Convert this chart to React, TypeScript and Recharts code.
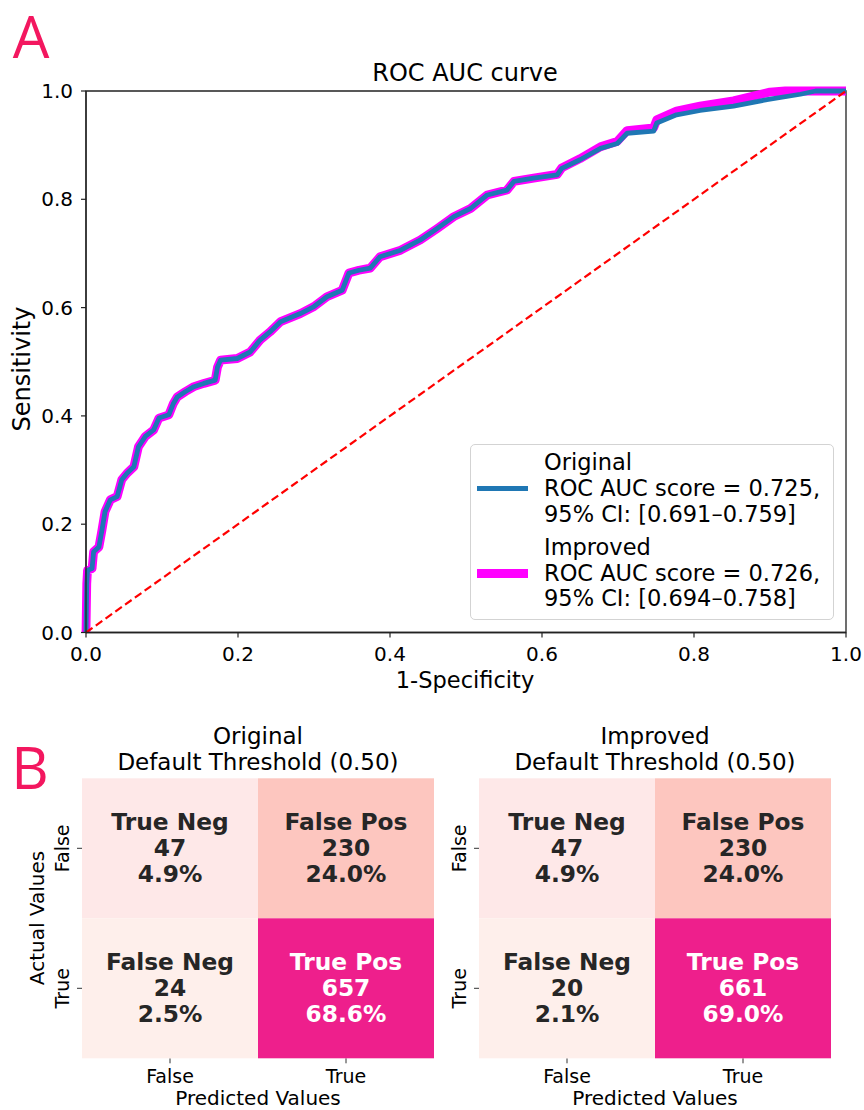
import React from 'react'
import {
  LineChart,
  Line,
  XAxis,
  YAxis,
  ReferenceArea,
  Legend,
  ScatterChart,
  Scatter,
} from 'recharts'

// ROC curve points
const fprOriginal = [
  0, 0.001, 0.002, 0.008, 0.01, 0.017, 0.021, 0.025, 0.032, 0.041, 0.047, 0.054, 0.063, 0.069,
  0.078, 0.089, 0.096, 0.109, 0.115, 0.12, 0.131, 0.142, 0.155, 0.17, 0.173, 0.177, 0.199, 0.216,
  0.229, 0.242, 0.256, 0.282, 0.3, 0.317, 0.337, 0.346, 0.359, 0.374, 0.387, 0.414, 0.44, 0.462,
  0.484, 0.506, 0.528, 0.554, 0.563, 0.589, 0.62, 0.626, 0.65, 0.677, 0.699, 0.712, 0.747, 0.751,
  0.777, 0.808, 0.852, 0.896, 0.94, 0.96, 1,
]
const tprOriginal = [
  0, 0.09, 0.115, 0.118, 0.149, 0.158, 0.189, 0.223, 0.245, 0.251, 0.282, 0.294, 0.306, 0.343,
  0.362, 0.374, 0.396, 0.402, 0.423, 0.435, 0.445, 0.454, 0.46, 0.466, 0.49, 0.503, 0.506, 0.518,
  0.54, 0.555, 0.574, 0.589, 0.602, 0.62, 0.632, 0.664, 0.669, 0.673, 0.694, 0.706, 0.725, 0.746,
  0.768, 0.783, 0.808, 0.817, 0.833, 0.839, 0.845, 0.857, 0.873, 0.894, 0.903, 0.922, 0.926, 0.941,
  0.956, 0.964, 0.972, 0.984, 0.994, 1, 1,
]
const fprImproved = [
  0, 0.001, 0.002, 0.008, 0.01, 0.017, 0.021, 0.025, 0.032, 0.041, 0.047, 0.054, 0.063, 0.069,
  0.078, 0.089, 0.096, 0.109, 0.115, 0.12, 0.131, 0.142, 0.155, 0.17, 0.173, 0.177, 0.199, 0.216,
  0.229, 0.242, 0.256, 0.282, 0.3, 0.317, 0.337, 0.346, 0.359, 0.374, 0.387, 0.414, 0.44, 0.462,
  0.484, 0.506, 0.528, 0.554, 0.563, 0.589, 0.62, 0.626, 0.65, 0.677, 0.699, 0.712, 0.747, 0.751,
  0.777, 0.808, 0.852, 0.9, 0.92, 1,
]
const tprImproved = [
  0, 0.09, 0.115, 0.118, 0.149, 0.158, 0.189, 0.223, 0.245, 0.251, 0.282, 0.294, 0.306, 0.343,
  0.362, 0.374, 0.396, 0.402, 0.423, 0.435, 0.445, 0.454, 0.46, 0.466, 0.49, 0.503, 0.506, 0.518,
  0.54, 0.555, 0.574, 0.589, 0.602, 0.62, 0.632, 0.664, 0.669, 0.673, 0.694, 0.706, 0.725, 0.746,
  0.768, 0.783, 0.808, 0.817, 0.833, 0.839, 0.846, 0.858, 0.875, 0.897, 0.907, 0.927, 0.932, 0.947,
  0.963, 0.972, 0.982, 0.998, 1, 1,
]
const chanceFpr = [0, 1]
const chanceTpr = [0, 1]
const rocTicks = [0, 0.2, 0.4, 0.6, 0.8, 1]

const seriesNames = ['Original', 'Improved']
const aucScores = [0.725, 0.726]
const ciLow = [0.691, 0.694]
const ciHigh = [0.759, 0.758]

// confusion matrices
const predictedLabels = ['False', 'True']
const actualLabels = ['False', 'True']
const cellNames = [
  ['True Neg', 'False Pos'],
  ['False Neg', 'True Pos'],
]
const originalCounts = [
  [47, 230],
  [24, 657],
]
const improvedCounts = [
  [47, 230],
  [20, 661],
]

const FONT = 'DejaVu Sans'
const AXIS = '#222'
const BLUE = '#1f77b4'
const MAGENTA = '#ff00ff'
const cellColors = [
  ['#fee8e8', '#fdc6bf'],
  ['#feefeb', '#ee1f8c'],
]
const cellText = [
  ['#262626', '#262626'],
  ['#262626', '#ffffff'],
]

const toPoints = (xs: number[], ys: number[]) => xs.map((x, i) => ({ x, y: ys[i] }))
const originalCurve = toPoints(fprOriginal, tprOriginal)
const improvedCurve = toPoints(fprImproved, tprImproved)
const chanceCurve = toPoints(chanceFpr, chanceTpr)

function Txt({ x, y, size, children, rotate, weight, color, family }: any) {
  return (
    <div
      style={{
        position: 'absolute',
        left: x,
        top: y,
        transform: `translate(-50%, -50%)${rotate ? ' rotate(-90deg)' : ''}`,
        fontSize: size,
        lineHeight: `${Math.round(size * 0.8)}px`,
        whiteSpace: 'nowrap',
        fontFamily: family || FONT,
        fontWeight: weight || 400,
        color: color || '#000',
      }}
    >
      {children}
    </div>
  )
}

function RocLegend() {
  const colors = [BLUE, MAGENTA]
  const widths = [4.5, 8.5]
  return (
    <div
      style={{
        width: 364,
        height: 176,
        border: '1px solid #d3d3d3',
        borderRadius: 5,
        background: 'rgba(255,255,255,0.85)',
        boxSizing: 'border-box',
        paddingTop: 5,
        fontFamily: FONT,
        fontSize: 22.5,
        lineHeight: '25.8px',
        color: '#000',
      }}
    >
      {seriesNames.map((name, i) => (
        <div key={name} style={{ display: 'flex', alignItems: 'center', marginBottom: i === 0 ? 7.5 : 0 }}>
          <div style={{ width: 51, height: widths[i], background: colors[i], marginLeft: 6, marginRight: 16 }} />
          <div>
            <div>{name}</div>
            <div>{`ROC AUC score = ${aucScores[i].toFixed(3)},`}</div>
            <div>{`95% CI: [${ciLow[i].toFixed(3)}\u2013${ciHigh[i].toFixed(3)}]`}</div>
          </div>
        </div>
      ))}
    </div>
  )
}

function RocPanel() {
  return (
    <LineChart width={864} height={700} margin={{ top: 91, right: 18, bottom: 37.5, left: 0 }}>
      <XAxis
        type="number"
        dataKey="x"
        domain={[0, 1]}
        ticks={rocTicks}
        tickFormatter={(v: number) => v.toFixed(1)}
        height={30}
        tickSize={5}
        tickMargin={9}
        tick={{ fontSize: 20, fill: '#000' }}
        axisLine={{ stroke: AXIS, strokeWidth: 1.3 }}
        tickLine={{ stroke: AXIS, strokeWidth: 1.2 }}
      />
      <YAxis
        type="number"
        dataKey="y"
        domain={[0, 1]}
        ticks={rocTicks}
        tickFormatter={(v: number) => v.toFixed(1)}
        width={86}
        tickSize={5}
        tickMargin={8}
        tick={{ fontSize: 20, fill: '#000' }}
        axisLine={{ stroke: AXIS, strokeWidth: 1.3 }}
        tickLine={{ stroke: AXIS, strokeWidth: 1.2 }}
      />
      <ReferenceArea x1={0} x2={1} y1={0} y2={1} fill="none" fillOpacity={0} stroke={AXIS} strokeWidth={1.3} />
      <Line
        data={improvedCurve}
        dataKey="y"
        name="Improved"
        type="linear"
        stroke={MAGENTA}
        strokeWidth={8.8}
        strokeLinejoin="round"
        dot={false}
        activeDot={false}
        isAnimationActive={false}
      />
      <Line
        data={originalCurve}
        dataKey="y"
        name="Original"
        type="linear"
        stroke={BLUE}
        strokeWidth={4.8}
        strokeLinejoin="round"
        dot={false}
        activeDot={false}
        isAnimationActive={false}
      />
      <Line
        data={chanceCurve}
        dataKey="y"
        name="Chance"
        type="linear"
        stroke="#ff0000"
        strokeWidth={2.2}
        strokeDasharray="8 4"
        dot={false}
        activeDot={false}
        isAnimationActive={false}
        legendType="none"
      />
      <Legend
        content={() => <RocLegend />}
        layout="vertical"
        align="center"
        verticalAlign="middle"
        wrapperStyle={{ left: 470, top: 444, width: 364, height: 176 }}
      />
    </LineChart>
  )
}

// matrix geometry
const M_W = 440
const M_H = 410
const M_TOP = 78.3
const M_RIGHT = 6
const M_YAXIS = 82
const M_XAXIS = 51.7
const CELL_W = (M_W - M_YAXIS - M_RIGHT) / predictedLabels.length
const CELL_H = (M_H - M_TOP - M_XAXIS) / actualLabels.length

function RotatedTick({ x, y, payload }: any) {
  return (
    <g transform={`translate(${x},${y}) rotate(-90)`}>
      <text textAnchor="middle" dy="0.36em" fontSize={19} fill="#000">
        {actualLabels[payload.value]}
      </text>
    </g>
  )
}

function MatrixCell(props: any) {
  const { cx, cy, payload } = props
  const { row, col } = payload
  const fg = cellText[row][col]
  const lines = [payload.name, String(payload.count), payload.pct]
  return (
    <g>
      <rect x={cx - CELL_W / 2} y={cy - CELL_H / 2} width={CELL_W} height={CELL_H} fill={cellColors[row][col]} />
      {lines.map((t, i) => (
        <text
          key={i}
          x={cx}
          y={cy + (i - 1) * 26.3 - 0.5}
          dy="0.36em"
          textAnchor="middle"
          fontSize={23.3}
          fontWeight="bold"
          fill={fg}
        >
          {t}
        </text>
      ))}
    </g>
  )
}

function MatrixPanel({ counts, left }: { counts: number[][]; left: number }) {
  const total = counts.flat().reduce((a, b) => a + b, 0)
  const cells = counts.flatMap((r, ri) =>
    r.map((count, ci) => ({
      row: ri,
      col: ci,
      count,
      name: cellNames[ri][ci],
      pct: `${((100 * count) / total).toFixed(1)}%`,
    }))
  )
  return (
    <div style={{ position: 'absolute', left, top: 700 }}>
      <ScatterChart width={M_W} height={M_H} margin={{ top: M_TOP, right: M_RIGHT, bottom: 0, left: 0 }}>
        <XAxis
          type="number"
          dataKey="col"
          domain={[-0.5, 1.5]}
          ticks={[0, 1]}
          tickFormatter={(v: number) => predictedLabels[v]}
          height={M_XAXIS}
          tickSize={5}
          tickMargin={6}
          tick={{ fontSize: 19, fill: '#000' }}
          axisLine={false}
          tickLine={{ stroke: '#333' }}
        />
        <YAxis
          type="number"
          dataKey="row"
          domain={[-0.5, 1.5]}
          ticks={[0, 1]}
          reversed
          width={M_YAXIS}
          tickSize={5}
          tickMargin={15}
          tick={<RotatedTick />}
          axisLine={false}
          tickLine={{ stroke: '#333' }}
        />
        <Scatter data={cells} shape={(p: any) => <MatrixCell {...p} />} isAnimationActive={false} />
      </ScatterChart>
    </div>
  )
}

export default function App() {
  const pink = '#f3175f'
  return (
    <div
      style={{
        position: 'absolute',
        left: 0,
        top: 0,
        width: 864,
        height: 1110,
        background: '#fff',
        fontFamily: FONT,
        overflow: 'hidden',
      }}
    >
      <div style={{ position: 'absolute', left: 0, top: 0 }}>
        <RocPanel />
      </div>
      <Txt x={31} y={36} size={58} family="Open Sans" color={pink}>A</Txt>
      <Txt x={465} y={73.3} size={24}>ROC AUC curve</Txt>
      <Txt x={465} y={680.3} size={22.5}>1-Specificity</Txt>
      <Txt x={22} y={369} size={24}>
        <span style={{ display: 'inline-block', transform: 'rotate(-90deg)' }}>Sensitivity</span>
      </Txt>

      <MatrixPanel counts={originalCounts} left={0} />
      <MatrixPanel counts={improvedCounts} left={397} />
      <Txt x={30} y={767} size={58} family="Open Sans" color={pink}>B</Txt>
      <Txt x={258} y={735.5} size={23}>Original</Txt>
      <Txt x={258} y={761.5} size={23}>Default Threshold (0.50)</Txt>
      <Txt x={655} y={735.5} size={23}>Improved</Txt>
      <Txt x={655} y={761.5} size={23}>Default Threshold (0.50)</Txt>
      <Txt x={37} y={918} size={20} rotate>Actual Values</Txt>
      <Txt x={258} y={1098} size={20}>Predicted Values</Txt>
      <Txt x={655} y={1098} size={20}>Predicted Values</Txt>
    </div>
  )
}
